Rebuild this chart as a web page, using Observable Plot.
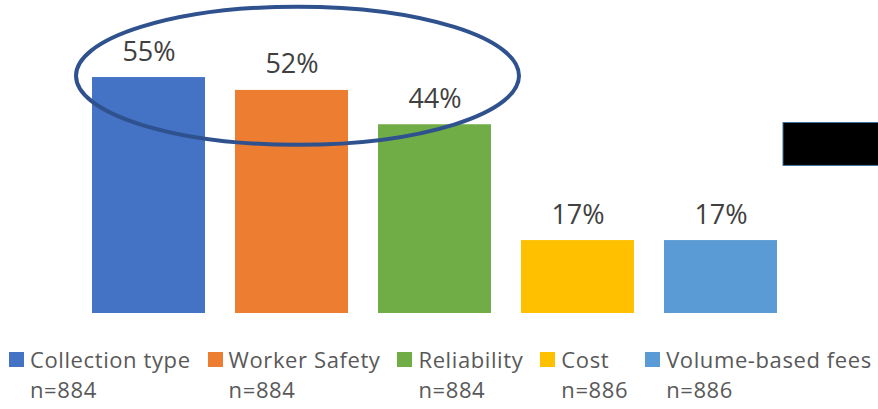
<!DOCTYPE html>
<html>
<head>
<meta charset="utf-8">
<script src="https://cdn.jsdelivr.net/npm/d3@7"></script>
<script src="https://cdn.jsdelivr.net/npm/@observablehq/plot@0.6"></script>
<style>
  html, body { margin: 0; padding: 0; background: #fff; }
  #wrap { position: relative; width: 878px; height: 409px; overflow: hidden; font-family: "Open Sans", sans-serif; }
  #legend { display: flex; margin: 14px 0 0 9px; gap: 17px; color: #595959; font-size: 22px; line-height: 30px; letter-spacing: 0.6px; }
  .item { display: flex; align-items: flex-start; }
  .sw { width: 15px; height: 15px; margin-top: 8px; margin-right: 6px; flex: none; }
</style>
</head>
<body>
<div id="wrap"><div id="chart"></div><div id="legend"></div></div>
<script>
const categories = ["Collection type", "Worker Safety", "Reliability", "Cost", "Volume-based fees"];
const values = [55, 52, 44, 17, 17];
const labels = ["55%", "52%", "44%", "17%", "17%"];
const sampleSizes = ["n=884", "n=884", "n=884", "n=886", "n=886"];
const colors = ["#4472C4", "#ED7D31", "#70AD47", "#FFC000", "#5B9BD5"];

// annotation: ellipse around the first three categories
const ellipseFrom = "Collection type";
const ellipseTo = "Reliability";
const ellipseYCenter = 55.3;
const ellipseYHalf = 16.1;

const data = categories.map((c, i) => ({category: c, value: values[i], label: labels[i]}));

const chart = Plot.plot({
  width: 878,
  height: 330,
  marginLeft: 76,
  marginRight: 85.5,
  marginTop: 12.7,
  marginBottom: 17,
  style: {background: "transparent", overflow: "visible"},
  x: {domain: categories, paddingInner: 0.21, paddingOuter: 0.105, axis: null},
  y: {domain: [0, 70], axis: null},
  color: {domain: categories, range: colors},
  marks: [
    Plot.barY(data, {x: "category", y: "value", fill: "category"}),
    Plot.text(data, {x: "category", y: "value", text: "label", lineAnchor: "bottom", dy: -17,
      fill: "#404040", fontSize: 27, fontFamily: "Open Sans, sans-serif"})
  ]
});
document.getElementById("chart").appendChild(chart);

// draw annotations using the chart's scales
const xs = chart.scale("x"), ys = chart.scale("y");
const left = xs.apply(ellipseFrom) - 16;
const right = xs.apply(ellipseTo) + xs.bandwidth + 28;
const cy = ys.apply(ellipseYCenter);
const ry = ys.apply(ellipseYCenter - ellipseYHalf) - cy;
const svg = d3.select(chart);
svg.append("ellipse")
  .attr("cx", (left + right) / 2).attr("cy", cy)
  .attr("rx", (right - left) / 2).attr("ry", ry)
  .attr("fill", "none").attr("stroke", "#2F528F").attr("stroke-width", 4);

// redaction box at the right
const boxX = xs.apply(categories[4]) + xs.bandwidth + 6;
svg.append("rect")
  .attr("x", boxX).attr("y", ys.apply(44.4)).attr("width", 120).attr("height", ys.apply(34.4) - ys.apply(44.4))
  .attr("fill", "#000").attr("stroke", "#41719C").attr("stroke-width", 1);

// legend
const legend = document.getElementById("legend");
categories.forEach((c, i) => {
  const it = document.createElement("div");
  it.className = "item";
  const sw = document.createElement("div");
  sw.className = "sw";
  sw.style.background = colors[i];
  const tx = document.createElement("div");
  tx.innerHTML = `<div>${c}</div><div>${sampleSizes[i]}</div>`;
  it.appendChild(sw); it.appendChild(tx);
  legend.appendChild(it);
});
</script>
</body>
</html>
